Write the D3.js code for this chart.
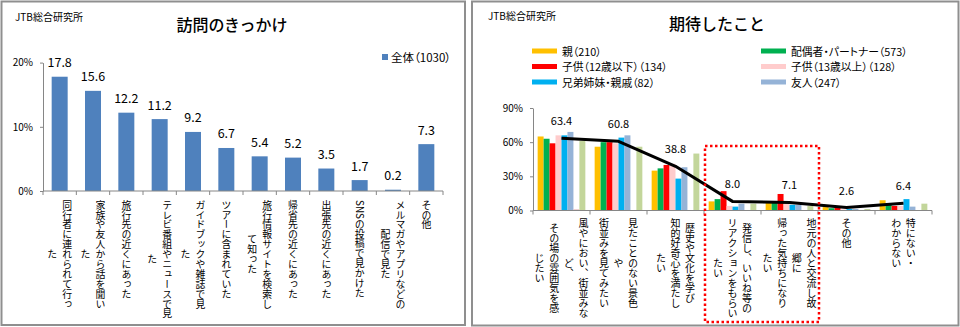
<!DOCTYPE html>
<html><head><meta charset="utf-8">
<script src="https://cdn.jsdelivr.net/npm/d3@7"></script>
<style>
html,body{margin:0;padding:0;background:#fff;}
svg{display:block;font-family:"Noto Sans CJK JP","Noto Sans",sans-serif;}
.palt{font-feature-settings:"palt";}
.vt{writing-mode:vertical-rl;text-orientation:mixed;}
</style></head>
<body>
<svg id="c" width="960" height="327"></svg>
<script>
// ---------- data: left chart ----------
const leftTitle = "訪問のきっかけ";
const leftSeries = "全体（1030）";
const leftCats = [
  ["同行者に連れられて行っ","た"],
  ["家族や友人から話を聞い","た"],
  ["旅行先の近くにあった"],
  ["テレビ番組やニュースで見","た"],
  ["ガイドブックや雑誌で見","た"],
  ["ツアーに含まれていた"],
  ["旅行情報サイトを検索し","て知った"],
  ["帰省先の近くにあった"],
  ["出張先の近くにあった"],
  ["SNSの投稿で見かけた"],
  ["メルマガやアプリなどの","配信で見た"],
  ["その他"]
];
const leftValues = [17.8,15.6,12.2,11.2,9.2,6.7,5.4,5.2,3.5,1.7,0.2,7.3];
const leftTicks = [0,10,20];

// ---------- data: right chart ----------
const rightTitle = "期待したこと";
const rightCats = [
  ["風やにおい、街並みな","ど、","その場の雰囲気を感","じたい"],
  ["見たことのない景色","や","街並みを見てみたい"],
  ["歴史や文化を学び","知的好奇心を満たし","たい"],
  ["発信し、いいね等の","リアクションをもらい","たい"],
  ["地元の人と交流し故","郷に","帰った気持ちになり","たい"],
  ["その他"],
  ["特にない・","わからない"]
];
const seriesNames = ["親（210）","配偶者・パートナー（573）","子供（12歳以下）（134）","子供（13歳以上）（128）","兄弟姉妹・親戚（82）","友人（247）","系列7","系列8"];
const legendCount = 6; // only the first six entries are visible in the legend
const seriesColors = ["#FFC000","#00B050","#FF0000","#FFCCCC","#00B0F0","#95B3D7","#E6B9B8","#C3D69B"];
const seriesValues = [
  [65,56,35,8,7,3,9],
  [63,60,37,10,7,2,6],
  [59,60,40,17,14.5,2.5,4],
  [66,59,41,4,6,1,4],
  [66,64,28,3.4,5,1.3,10],
  [69,66,38,6,5,1.3,3.4],
  [1,0,0,0,0,0,0],
  [61,56,50,6,4,1.3,6]
];
const totalValues = [63.4,60.8,38.8,8.0,7.1,2.6,6.4];
const rightTicks = [0,30,60,90];

const svg = d3.select("#c");
const F = '"Noto Sans CJK JP","Noto Sans",sans-serif';

// panel frames
function frame(x0,y0,x1,y1){
  svg.append("rect").attr("x",x0).attr("y",y0).attr("width",x1-x0).attr("height",y1-y0)
    .attr("fill","#fff").attr("stroke","#8f8f8f").attr("stroke-width",2);
}
frame(1.5,1.5,465,325);
frame(472,1.5,958.5,325.5);

function styleAxis(g){
  g.selectAll("path,line").attr("stroke","#868686").attr("stroke-width",1);
  g.selectAll("text").attr("fill","#000").style("font-family",F).style("font-size","10px");
}

function verticalLabels(g, cats, xCenter, top, fs, spacing){
  cats.forEach((lines,ci)=>{
    const cx = xCenter(ci);
    const n = lines.length;
    const nodes = lines.map((ln,i)=>{
      return g.append("text").attr("class","vt")
        .attr("x", cx + ((n-1)/2 - i)*spacing)
        .attr("text-anchor","middle")
        .attr("fill","#000")
        .style("font-size",fs+"px")
        .text(ln);
    });
    let maxLen = 0;
    nodes.forEach((t,i)=>{
      let L = t.node().getComputedTextLength();
      if(!L) L = lines[i].length*fs;
      maxLen = Math.max(maxLen,L);
    });
    nodes.forEach(t=>t.attr("y", top + maxLen/2));
  });
}

// ================= LEFT CHART =================
{
  const g = svg.append("g");
  g.append("text").attr("x",15).attr("y",21).style("font-size","10px").attr("class","palt").text("JTB総合研究所");
  g.append("text").attr("x",232).attr("y",31).attr("text-anchor","middle").style("font-size","16px").style("font-weight","500").text(leftTitle);

  const x = d3.scaleBand().domain(d3.range(leftValues.length)).range([43,443]).paddingInner(0.52).paddingOuter(0.26);
  const x0 = d3.scaleBand().domain(d3.range(leftValues.length)).range([43,443]).padding(0);
  const y = d3.scaleLinear().domain([0,20]).range([191,62.6]);

  g.selectAll("rect.bar").data(leftValues).join("rect").attr("class","bar")
    .attr("x",(d,i)=>x(i)).attr("width",x.bandwidth())
    .attr("y",d=>y(d)).attr("height",d=>y(0)-y(d)).attr("fill","#4F81BD");

  g.selectAll("text.dl").data(leftValues).join("text").attr("class","dl")
    .attr("x",(d,i)=>x(i)+x.bandwidth()/2).attr("y",d=>y(d)-9.5)
    .attr("text-anchor","middle").style("font-size","12.5px").text(d=>d.toFixed(1));

  const ya = g.append("g").attr("transform","translate(43,0)")
    .call(d3.axisLeft(y).tickValues(leftTicks).tickFormat(d=>d+"%").tickSize(3).tickPadding(7).tickSizeOuter(0));
  styleAxis(ya);
  // x axis line with boundary ticks
  const xa = g.append("g");
  xa.append("line").attr("x1",43).attr("x2",443).attr("y1",y(0)).attr("y2",y(0)).attr("stroke","#868686");
  d3.range(leftValues.length+1).forEach(i=>{
    const xx = i<leftValues.length ? x0(i) : x0(leftValues.length-1)+x0.bandwidth();
    xa.append("line").attr("x1",xx).attr("x2",xx).attr("y1",y(0)).attr("y2",y(0)+4).attr("stroke","#868686");
  });

  verticalLabels(g, leftCats, i=>x0(i)+x0.bandwidth()/2, 200, 9.9, 15);

  // legend
  g.append("rect").attr("x",382).attr("y",54).attr("width",6).attr("height",6).attr("fill","#4F81BD");
  g.append("text").attr("x",391).attr("y",61.5).attr("class","palt").style("font-size","11.5px").text(leftSeries);
}

// ================= RIGHT CHART =================
{
  const g = svg.append("g");
  g.append("text").attr("x",488).attr("y",20).style("font-size","10px").attr("class","palt").text("JTB総合研究所");
  g.append("text").attr("x",717).attr("y",30).attr("text-anchor","middle").style("font-size","16px").style("font-weight","500").text(rightTitle);

  // legend
  const lg = g.append("g");
  seriesNames.slice(0,legendCount).forEach((nm,i)=>{
    const col = i%2, row = Math.floor(i/2);
    const lx = col===0 ? 532 : 761;
    const ly = 51 + row*15.5;
    lg.append("rect").attr("x",lx).attr("y",ly-2.5).attr("width",25).attr("height",5).attr("fill",seriesColors[i]);
    lg.append("text").attr("x",lx+30).attr("y",ly+4.5).attr("class","palt").style("font-size","10.8px").text(nm);
  });

  const cats = d3.range(rightCats.length);
  const x0 = d3.scaleBand().domain(cats).range([533,932]).padding(0);
  const x1 = d3.scaleBand().domain(d3.range(seriesValues.length)).range([0,x0.bandwidth()]).paddingInner(0).paddingOuter(0.78);
  const y = d3.scaleLinear().domain([0,90]).range([210.5,108]);

  seriesValues.forEach((vals,si)=>{
    g.append("g").selectAll("rect").data(vals).join("rect")
      .attr("x",(d,ci)=>x0(ci)+x1(si)).attr("width",x1.bandwidth())
      .attr("y",d=>y(d)).attr("height",d=>y(0)-y(d)).attr("fill",seriesColors[si]);
  });

  const ya = g.append("g").attr("transform","translate(533,0)")
    .call(d3.axisLeft(y).tickValues(rightTicks).tickFormat(d=>d+"%").tickSize(3).tickPadding(7).tickSizeOuter(0));
  styleAxis(ya);
  const xa = g.append("g");
  xa.append("line").attr("x1",533).attr("x2",932).attr("y1",y(0)).attr("y2",y(0)).attr("stroke","#868686");
  d3.range(cats.length+1).forEach(i=>{
    const xx = i<cats.length ? x0(i) : x0(cats.length-1)+x0.bandwidth();
    xa.append("line").attr("x1",xx).attr("x2",xx).attr("y1",y(0)).attr("y2",y(0)+4).attr("stroke","#868686");
  });

  // total line
  const line = d3.line().x((d,i)=>x0(i)+x0.bandwidth()/2).y(d=>y(d));
  g.append("path").datum(totalValues).attr("d",line).attr("fill","none").attr("stroke","#000")
    .attr("stroke-width",3).attr("stroke-linejoin","round");
  g.selectAll("text.dl").data(totalValues).join("text").attr("class","dl")
    .attr("x",(d,i)=>x0(i)+x0.bandwidth()/2).attr("y",d=>y(d)-13)
    .attr("text-anchor","middle").style("font-size","11px").text(d=>d.toFixed(1));

  verticalLabels(g, rightCats, i=>x0(i)+x0.bandwidth()/2, 218, 10, 14.6);

  // red dotted highlight box around categories 4 and 5
  const bx0 = x0(3)+1, bx1 = x0(4)+x0.bandwidth()+1;
  g.append("rect").attr("x",bx0).attr("y",146).attr("width",bx1-bx0).attr("height",322-146)
    .attr("fill","none").attr("stroke","#FF0000").attr("stroke-width",2.5).attr("stroke-dasharray","2.5,2.5");
}
</script>
</body></html>
